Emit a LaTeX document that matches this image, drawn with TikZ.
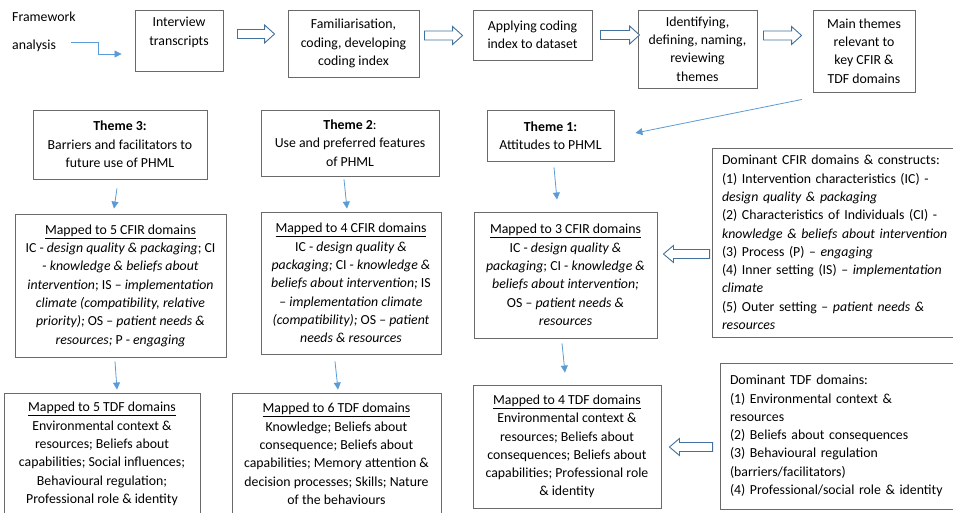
\documentclass[tikz,border=0pt]{standalone}
\usepackage{fontspec}
\setmainfont{Carlito}
\usetikzlibrary{arrows.meta,calc}
\definecolor{boxgray}{HTML}{6A6A6A}
\definecolor{lblue}{HTML}{5B9BD5}
\definecolor{dblue}{HTML}{41719C}
% horizontal hollow block arrows: #1 tail, #2 tip
\newcommand\hollowR[2]{\draw[hollow] let \p1=(#1), \p2=(#2) in
  (\x1,\y1+4.5pt) -- (\x2-10pt,\y1+4.5pt) -- (\x2-10pt,\y1+9pt) -- (\x2,\y1)
  -- (\x2-10pt,\y1-9pt) -- (\x2-10pt,\y1-4.5pt) -- (\x1,\y1-4.5pt) -- cycle;}
\newcommand\hollowL[2]{\draw[hollow] let \p1=(#1), \p2=(#2) in
  (\x1,\y1+4.5pt) -- (\x2+10pt,\y1+4.5pt) -- (\x2+10pt,\y1+8.5pt) -- (\x2,\y1)
  -- (\x2+10pt,\y1-8.5pt) -- (\x2+10pt,\y1-4.5pt) -- (\x1,\y1-4.5pt) -- cycle;}
\begin{document}
\begin{tikzpicture}[x=1pt,y=-1pt,
  font=\fontsize{13.8}{18.3}\selectfont,
  tbox/.style={draw=boxgray, line width=0.9pt, align=center, inner sep=2pt, text=black},
  lbox/.style={draw=boxgray, line width=0.9pt, align=left, inner xsep=10pt, inner ysep=2pt, text=black},
  plain/.style={inner sep=0pt, anchor=base west, text=black},
  bluearr/.style={draw=lblue, line width=0.8pt, -{Triangle[length=7pt,width=7pt]}},
  hollow/.style={draw=dblue, line width=0.9pt, fill=white}]
\useasboundingbox (0,0) rectangle (953,513);
\clip (0,0) rectangle (953,513);

% top row
\node[plain] (fw1) at (12,22) {Framework};
\node[plain] (fw2) at (12,50) {analysis};
\node[tbox, minimum width=88pt, minimum height=61pt] (b1) at (179,40.5) {Interview\\transcripts\\ \mbox{}};
\node[tbox, minimum width=131pt, minimum height=67pt] (b2) at (353.5,43.5) {Familiarisation,\\coding, developing\\coding index};
\node[tbox, minimum width=119pt, minimum height=50pt] (b3) at (532.5,35) {Applying coding\\index to dataset};
\node[tbox, minimum width=119pt, minimum height=78pt] (b4) at (697.5,49) {Identifying,\\defining, naming,\\reviewing\\themes};
\node[tbox, minimum width=102pt, minimum height=82pt] (b5) at (864,51) {Main themes\\relevant to\\key CFIR \&\\TDF domains};

% themes
\node[tbox, minimum width=174pt, minimum height=69pt] (t3) at (120,144.5) {\textbf{Theme 3:}\\Barriers and facilitators to\\future use of PHML};
\node[tbox, minimum width=178pt, minimum height=66pt] (t2) at (350,143) {\textbf{Theme 2}:\\Use and preferred features\\of PHML};
\node[tbox, minimum width=127pt, minimum height=51pt] (t1) at (550.5,135.5) {\textbf{Theme 1:}\\Attitudes to PHML};

% CFIR boxes
\node[tbox, minimum width=211pt, minimum height=143pt] (c5) at (120.5,285.5) {\underline{Mapped to 5 CFIR domains}\\
IC - \textit{design quality \& packaging}; CI\\
- \textit{knowledge \& beliefs about}\\
\textit{intervention}; IS -- \textit{implementation}\\
\textit{climate (compatibility, relative}\\
\textit{priority); }OS -- \textit{patient needs \&}\\
\textit{resources; }P - \textit{engaging}};
\node[tbox, minimum width=180pt, minimum height=142pt] (c4) at (351,283) {\underline{Mapped to 4 CFIR domains}\\
IC - \textit{design quality \&}\\
\textit{packaging; }CI - \textit{knowledge \&}\\
\textit{beliefs about intervention; }IS\\
-- \textit{implementation climate}\\
\textit{(compatibility); }OS -- \textit{patient}\\
\textit{needs \& resources}};
\node[tbox, minimum width=183pt, minimum height=126pt] (c3) at (565.5,275) {\underline{Mapped to 3 CFIR domains}\\
IC - \textit{design quality \&}\\
\textit{packaging}; CI - \textit{knowledge \&}\\
\textit{beliefs about intervention;}\\
OS -- \textit{patient needs \&}\\
\textit{resources}};
\node[lbox, text width=228pt, minimum height=189pt] (dc) at (836,242.5) {Dominant CFIR domains \& constructs:\\
(1) Intervention characteristics (IC) -\\
\textit{design quality \& packaging}\\
(2) Characteristics of Individuals (CI) -\\
\textit{knowledge \& beliefs about intervention}\\
(3) Process (P) -- \textit{engaging}\\
(4) Inner setting (IS) -- \textit{implementation}\\
\textit{climate}\\
(5) Outer setting -- \textit{patient needs \&}\\
\textit{resources}};

% TDF boxes
\node[tbox, minimum width=196pt, minimum height=122pt] (d5) at (102,454) {\underline{Mapped to 5 TDF domains}\\
Environmental context \&\\
resources; Beliefs about\\
capabilities; Social influences;\\
Behavioural regulation;\\
Professional role \& identity};
\node[tbox, minimum width=209pt, minimum height=122pt] (d6) at (336.5,454) {\underline{Mapped to 6 TDF domains}\\
Knowledge; Beliefs about\\
consequence; Beliefs about\\
capabilities; Memory attention \&\\
decision processes; Skills; Nature\\
of the behaviours};
\node[tbox, minimum width=188pt, minimum height=123pt] (d4) at (567,446.5) {\underline{Mapped to 4 TDF domains}\\
Environmental context \&\\
resources; Beliefs about\\
consequences; Beliefs about\\
capabilities; Professional role\\
\& identity};
\node[lbox, text width=220pt, minimum height=146pt] (dt) at (840,436) {Dominant TDF domains:\\
(1) Environmental context \&\\
resources\\
(2) Beliefs about consequences\\
(3) Behavioural regulation\\
(barriers/facilitators)\\
(4) Professional/social role \& identity};

% blue connectors
\draw[bluearr] ([xshift=15pt,yshift=4pt]fw2.east) -- ++(27,0) |- ([xshift=-13pt,yshift=-13.5pt]b1.west);
\draw[bluearr] ([shift={(-62,7)}]b5.south) -- ([shift={(21,-2.5)}]t1.east);
\draw[bluearr] ([shift={(-3,9)}]t3.south) -- ([shift={(-6.5,-5)}]c5.north);
\draw[bluearr] ([shift={(-6,3)}]t2.south) -- ([shift={(-4,-3)}]c4.north);
\draw[bluearr] ([shift={(3.5,6)}]t1.south) -- ([shift={(-8.5,-12)}]c3.north);
\draw[bluearr] ([shift={(-5.5,4)}]c5.south) -- ([shift={(15,-3)}]d5.north);
\draw[bluearr] ([shift={(-16,7)}]c4.south) -- ([shift={(1.5,-3)}]d6.north);
\draw[bluearr] ([shift={(-3.5,5)}]c3.south) -- ([shift={(-2,-12)}]d4.north);

% hollow block arrows
\hollowR{[shift={(14,-6.5)}]b1.east}{[shift={(-13,-9.5)}]b2.west}
\hollowR{[shift={(5,-8)}]b2.east}{[shift={(-10,0.5)}]b3.west}
\hollowR{[shift={(8,0)}]b3.east}{[shift={(2,-14)}]b4.west}
\hollowR{[shift={(6,-13.5)}]b4.east}{[shift={(-11,-15.5)}]b5.west}
\hollowL{[shift={(-2,11.5)}]dc.west}{[shift={(6,-21)}]c3.east}
\hollowL{[shift={(-7,11)}]dt.west}{[shift={(8,0.5)}]d4.east}
\end{tikzpicture}
\end{document}
